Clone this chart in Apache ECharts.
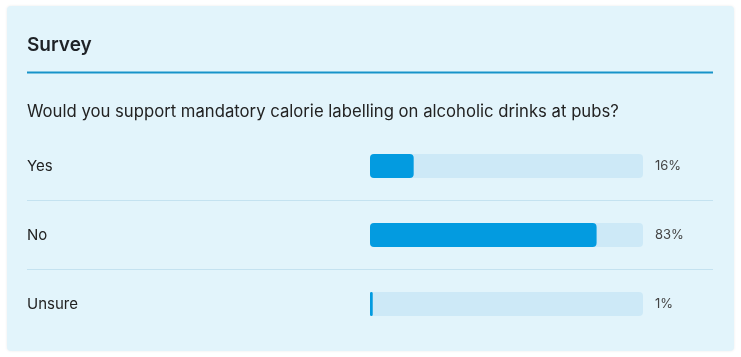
<!DOCTYPE html>
<html><head><meta charset="utf-8">
<script src="https://cdn.jsdelivr.net/npm/echarts@6/dist/echarts.min.js"></script>
<style>html,body{margin:0;padding:0;background:#fff}#c{width:741px;height:357px}</style>
</head><body><div id="c"></div>
<script>
const categories = ['Yes', 'No', 'Unsure'];
const values = [16, 83, 1];
const valueLabels = ['16%', '83%', '1%'];
const titleText = 'Survey';
const questionText = 'Would you support mandatory calorie labelling on alcoholic drinks at pubs?';

const FONT = 'Inter, "Noto Sans", sans-serif';
const chart = echarts.init(document.getElementById('c'));
chart.setOption({
  backgroundColor: '#ffffff',
  animation: false,
  title: [
    { text: titleText, left: 27, top: 36, padding: 0, textStyle: { fontFamily: FONT, fontSize: 19, fontWeight: 600, color: '#1e2226' } },
    { text: questionText, left: 27, top: 103, padding: 0, textStyle: { fontFamily: FONT, fontSize: 16.7, fontWeight: 400, color: '#222' } }
  ],
  graphic: [
    { type: 'rect', z: -10, shape: { x: 7, y: 6, width: 727, height: 345, r: 4 }, style: { fill: '#e2f4fb', shadowBlur: 3, shadowColor: 'rgba(0,0,0,0.08)' } },
    { type: 'rect', z: -5, shape: { x: 27, y: 71.5, width: 686, height: 2 }, style: { fill: '#1793c9' } },
    { type: 'rect', z: -5, shape: { x: 27, y: 200, width: 686, height: 1 }, style: { fill: '#c4e2f0' } },
    { type: 'rect', z: -5, shape: { x: 27, y: 269, width: 686, height: 1 }, style: { fill: '#c4e2f0' } }
  ],
  grid: { left: 370, width: 273, top: 131.5, height: 207 },
  xAxis: { type: 'value', min: 0, max: 100, show: false },
  yAxis: [
    { type: 'category', data: categories, inverse: true,
      axisLine: { show: false }, axisTick: { show: false }, splitLine: { show: false },
      axisLabel: { align: 'left', margin: 343, padding: [5, 0, 0, 0], fontFamily: FONT, fontSize: 15, color: '#222' } },
    { type: 'category', data: valueLabels, inverse: true, position: 'right',
      axisLine: { show: false }, axisTick: { show: false }, splitLine: { show: false },
      axisLabel: { align: 'left', margin: 12, padding: [3, 0, 0, 0], fontFamily: FONT, fontSize: 13, color: '#444' } }
  ],
  series: [{
    type: 'bar', data: values, barWidth: 24, yAxisIndex: 0,
    itemStyle: { color: '#039be0', borderRadius: 4 },
    showBackground: true,
    backgroundStyle: { color: '#cde9f7', borderRadius: 4 }
  }]
});
</script></body></html>
